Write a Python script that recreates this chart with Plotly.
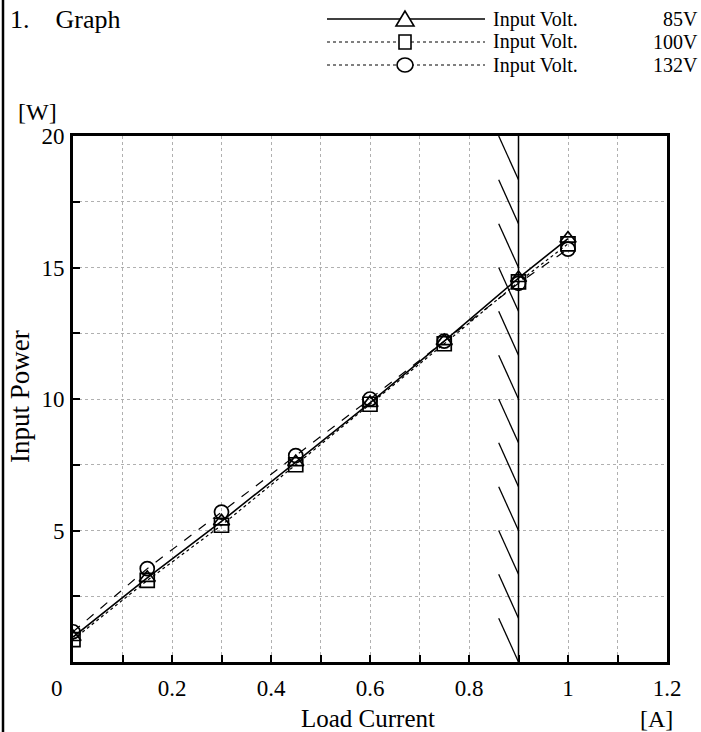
import plotly.graph_objects as go

# ---- data ----
load_current = [0.0, 0.15, 0.30, 0.45, 0.60, 0.75, 0.90, 1.00]
power_85v = [0.95, 3.2, 5.35, 7.6, 9.85, 12.2, 14.6, 16.1]
power_100v = [0.85, 3.1, 5.2, 7.5, 9.8, 12.1, 14.45, 15.9]
power_132v = [1.15, 3.55, 5.7, 7.85, 10.0, 12.2, 14.4, 15.7]
legend_label = "Input Volt."
voltages = ["85V", "100V", "132V"]
x_tick_vals = [0.0, 0.2, 0.4, 0.6, 0.8, 1.0, 1.2]
x_tick_text = ["", "0.2", "0.4", "0.6", "0.8", "1", "1.2"]
y_tick_vals = [5, 10, 15, 20]
y_tick_text = ["5", "10", "15", "20"]
limit_current = 0.9

W, H = 701, 732
L, R, T, B = 73, 34, 136, 70
PW, PH = W - L - R, H - T - B

def px(x):
    return (x - L) / PW

def py(y):
    return (H - B - y) / PH

FONT = "Liberation Serif"
fig = go.Figure()

styles = [
    dict(dash="solid", width=1.6, symbol="triangle-up-open"),
    dict(dash="dot", width=1.2, symbol="square-open"),
    dict(dash="dash", width=1.2, symbol="circle-open"),
]
all_series = [power_85v, power_100v, power_132v]
for v, ys, st in zip(voltages, all_series, styles):
    fig.add_trace(go.Scatter(
        x=load_current, y=ys, name=f"{legend_label} {v}", mode="lines+markers",
        line=dict(color="black", width=st["width"], dash=st["dash"]),
        marker=dict(symbol=st["symbol"], size=14, color="black",
                    line=dict(color="black", width=1.7)),
        showlegend=False,
    ))

shapes = []
# limit line and hatch
shapes.append(dict(type="line", xref="x", yref="y", x0=limit_current, x1=limit_current,
                   y0=0, y1=20, line=dict(color="black", width=1.5)))
n_hatch = 12
step = 20 / n_hatch
for k in range(n_hatch):
    y0 = k * step
    shapes.append(dict(type="line", xref="x", yref="y", x0=limit_current - 0.04, y0=y0 + step,
                       x1=limit_current, y1=y0, line=dict(color="black", width=1.3)))
# page border at left
shapes.append(dict(type="line", xref="paper", yref="paper", x0=px(3), x1=px(3),
                   y0=py(0), y1=py(H), line=dict(color="black", width=2.5)))

# manual legend key (decoration)
row_y = [19, 42, 65]
leg_x0, leg_x1, mk_x = 327, 485, 405
legend_dash = ["solid", "dot", "dot"]
legend_width = [1.6, 1.0, 1.0]
for i in range(3):
    y = row_y[i]
    shapes.append(dict(type="line", xref="paper", yref="paper", x0=px(leg_x0), x1=px(leg_x1),
                       y0=py(y), y1=py(y), line=dict(color="black", width=legend_width[i], dash=legend_dash[i])))
lw = dict(color="black", width=1.6)
ty = row_y[0]
shapes.append(dict(type="path", xref="paper", yref="paper", fillcolor="white", line=lw,
                   path=f"M {px(mk_x)} {py(ty-8)} L {px(mk_x-9)} {py(ty+7)} L {px(mk_x+9)} {py(ty+7)} Z"))
sy = row_y[1]
shapes.append(dict(type="rect", xref="paper", yref="paper", fillcolor="white", line=lw,
                   x0=px(mk_x-6), x1=px(mk_x+6), y0=py(sy-7), y1=py(sy+7)))
cy = row_y[2]
shapes.append(dict(type="circle", xref="paper", yref="paper", fillcolor="white", line=lw,
                   x0=px(mk_x-8), x1=px(mk_x+8), y0=py(cy-7), y1=py(cy+7)))

def ann(text, x, y, size=24, xanchor="center", **kw):
    return dict(text=text, xref="paper", yref="paper", x=px(x), y=py(y), showarrow=False,
                font=dict(family=FONT, size=size, color="black"), xanchor=xanchor,
                yanchor="middle", **kw)

annotations = [
    ann("1.\u00a0\u00a0\u00a0\u00a0Graph", 8, 19, size=26, xanchor="left"),
    ann("[W]", 37, 112),
    ann("Load Current", 368, 718, size=25),
    ann("[A]", 656, 719),
    ann("0", 57, 688, size=23),
    ann("Input Power", 20, 397, size=27, textangle=-90),
]
for i in range(3):
    annotations.append(ann(legend_label, 491, row_y[i], size=20, xanchor="left"))
    annotations.append(ann(voltages[i], 700, row_y[i], size=20, xanchor="right"))

fig.update_layout(
    width=W, height=H,
    margin=dict(l=L, r=R, t=T, b=B),
    paper_bgcolor="white", plot_bgcolor="white",
    font=dict(family=FONT, size=23, color="black"),
    showlegend=False,
    shapes=shapes,
    annotations=annotations,
)
grid = dict(gridcolor="#b0b0b0", griddash="dot", gridwidth=1)
fig.update_xaxes(
    range=[0, 1.2], tickmode="array", tickvals=x_tick_vals, ticktext=x_tick_text,
    ticks="inside", ticklen=7, tickwidth=1.5, tickcolor="black", ticklabelstandoff=3,
    showline=True, linecolor="black", linewidth=3, mirror=True,
    showgrid=True, zeroline=False, **grid,
    minor=dict(tickmode="linear", tick0=0, dtick=0.1, ticks="inside", ticklen=7,
               tickwidth=1.5, tickcolor="black", showgrid=True, **grid),
)
fig.update_yaxes(
    range=[0, 20], tickmode="array", tickvals=y_tick_vals, ticktext=y_tick_text,
    ticks="inside", ticklen=7, tickwidth=1.5, tickcolor="black", ticklabelstandoff=1,
    showline=True, linecolor="black", linewidth=3, mirror=True,
    showgrid=True, zeroline=False, **grid,
    minor=dict(tickmode="linear", tick0=0, dtick=2.5, ticks="inside", ticklen=7,
               tickwidth=1.5, tickcolor="black", showgrid=True, **grid),
)

fig.write_html("out.html", config={"displayModeBar": False},
               post_script="document.body.style.margin='0';document.body.style.overflow='hidden';")
